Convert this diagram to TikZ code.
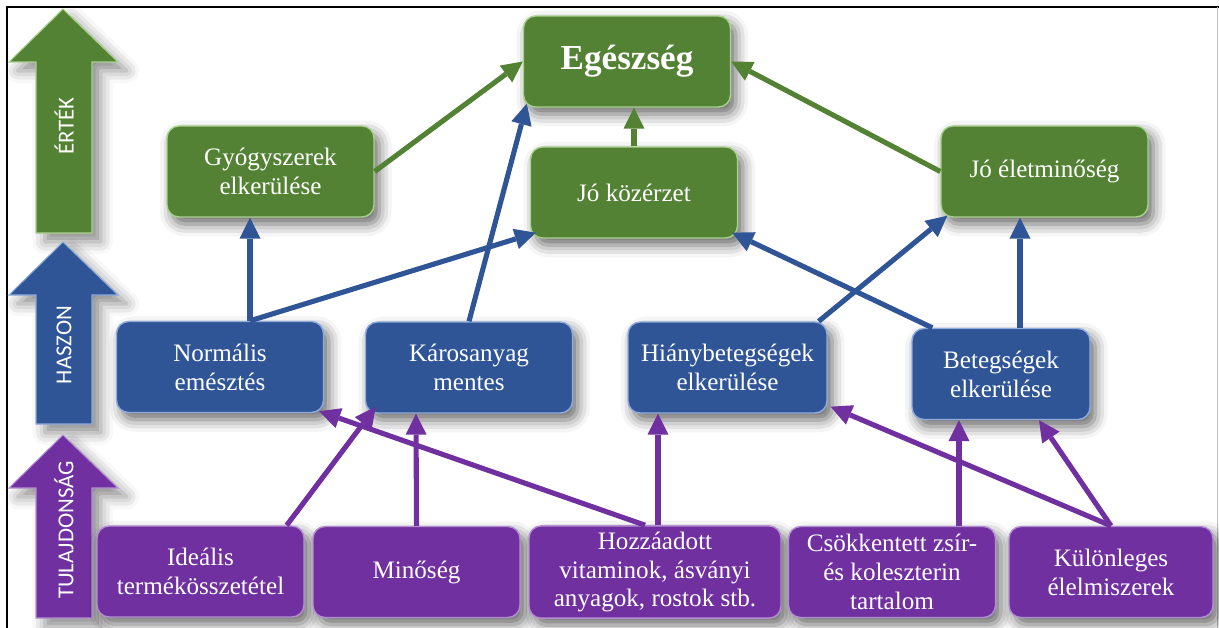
\documentclass[tikz,border=0pt]{standalone}
\usepackage{fontspec}
\setmainfont{Liberation Serif}
\newfontfamily\calibri{Carlito}
\usetikzlibrary{arrows.meta,shadows.blur}
\definecolor{ertekc}{HTML}{548235}
\definecolor{ertekl}{HTML}{A9D18E}
\definecolor{haszonc}{HTML}{2F5597}
\definecolor{haszonl}{HTML}{8FAADC}
\definecolor{tulajc}{HTML}{7030A0}
\definecolor{tulajl}{HTML}{B48ED3}
\begin{document}
\begin{tikzpicture}[x=0.02cm, y=-0.02cm,
    box/.style={rectangle, rounded corners=0.24cm, minimum width=4.14cm,
      minimum height=1.82cm, align=center, text=white, line width=0.8pt,
      font=\fontsize{14.3}{16.4}\selectfont,
      blur shadow={shadow xshift=3pt, shadow yshift=-4pt,
        shadow blur radius=7pt, shadow opacity=60}},
    gbox/.style={box, fill=ertekc, draw=ertekl},
    bbox/.style={box, fill=haszonc, draw=haszonl},
    pbox/.style={box, fill=tulajc, draw=tulajl},
    link/.style={line width=2.9pt, draw=#1,
      -{Triangle[length=0.42cm, width=0.42cm, fill=#1, line width=0pt]}},
    side/.style={rotate=90, text=white, font=\calibri\fontsize{13}{14}\selectfont}]
  \useasboundingbox (0,0) rectangle (1219,628);
  % frame
  \draw[line width=1.2pt] (1219,7) -- (7,7) -- (7,628);
  \draw[black!25] (1217,7) -- (1217,628);
  % level arrows on the left
  \foreach \c/\t/\b/\lab/\m [count=\i] in
      {ertek/9/233/ÉRTÉK/126, haszon/242/424/HASZON/345, tulaj/435/618/TULAJDONSÁG/530} {
    \filldraw[fill=\c c, draw=\c l, line width=0.6pt,
      blur shadow={shadow xshift=5pt, shadow yshift=-5pt, shadow blur radius=7pt, shadow opacity=45}]
      (36,\b) -- (36,{\t+53}) -- (9,{\t+53}) -- (63,\t) -- (118,{\t+53})
      -- (92,{\t+53}) -- (92,\b) -- cycle;
    \node[side] (side\i) at (64,\m) {\lab};
  }

  % value level
  \node[gbox, font=\fontsize{20}{24}\selectfont\bfseries] (egesz) at (627,61.5) {Egészség};
  \node[gbox] (gyogy) at (270.5,171.5) {Gyógyszerek\\elkerülése};
  \node[gbox] (kozerz) at (634,192.5) {Jó közérzet};
  \node[gbox] (eletmin) at (1044.5,171.5) {Jó életminőség};
  % benefit level
  \node[bbox] (normal) at (220,367) {Normális\\emésztés};
  \node[bbox] (karos) at (469,367.5) {Károsanyag\\mentes};
  \node[bbox, minimum width=3.98cm] (hiany) at (727.5,367.5) {Hiánybetegségek\\elkerülése};
  \node[bbox, minimum width=3.56cm] (beteg) at (1001,374) {Betegségek\\elkerülése};
  % property level
  \node[pbox] (idealis) at (200.5,571.5) {Ideális\\termékösszetétel};
  \node[pbox] (minoseg) at (416.5,572) {Minőség};
  \node[pbox, minimum width=5.04cm] (hozza) at (655,572) {Hozzáadott\\vitaminok, ásványi\\anyagok, rostok stb.};
  \node[pbox] (csokk) at (892,572) {Csökkentett zsír-\\és koleszterin\\tartalom};
  \node[pbox, minimum width=4.08cm] (kulon) at (1111,572) {Különleges\\élelmiszerek};

  % green links
  \draw[link=ertekc] (gyogy.east) -- (egesz.west);
  \draw[link=ertekc] (kozerz.north) -- (kozerz.north |- egesz.south);
  \draw[link=ertekc] (eletmin.west) -- (egesz.east);
  % blue links
  \draw[link=haszonc] ([shift={(30,0)}]normal.north) -- ([shift={(30,0)}]normal.north |- gyogy.south);
  \draw[link=haszonc] ([shift={(30,0)}]normal.north) -- ([shift={(6,-6)}]kozerz.south west);
  \draw[link=haszonc] (karos.north) -- ([shift={(4,-4)}]egesz.south west);
  \draw[link=haszonc] ([shift={(-9,0)}]hiany.north east) -- ([shift={(7,-2)}]eletmin.south west);
  \draw[link=haszonc] ([shift={(21,0)}]beteg.north west) -- ([shift={(-6,-6)}]kozerz.south east);
  \draw[link=haszonc] ([shift={(19,0)}]beteg.north) -- ([shift={(19,0)}]beteg.north |- eletmin.south);
  % purple links
  \draw[link=tulajc] ([shift={(-18,0)}]idealis.north east) -- ([shift={(11,-7)}]karos.south west);
  \draw[link=tulajc] (minoseg.north) -- ([shift={(-53,0)}]karos.south);
  \draw[link=tulajc] ([shift={(-10,0)}]hozza.north) -- ([shift={(-5,-2)}]normal.south east);
  \draw[link=tulajc] ([shift={(3,0)}]hozza.north) -- ([shift={(3,0)}]hozza.north |- hiany.south);
  \draw[link=tulajc] (kulon.north) -- ([shift={(3,-7)}]hiany.south east);
  \draw[link=tulajc] (kulon.north) -- ([shift={(38,0)}]beteg.south);
  \draw[link=tulajc] ([shift={(67,0)}]csokk.north) -- ([shift={(67,0)}]csokk.north |- beteg.south);
\end{tikzpicture}
\end{document}
